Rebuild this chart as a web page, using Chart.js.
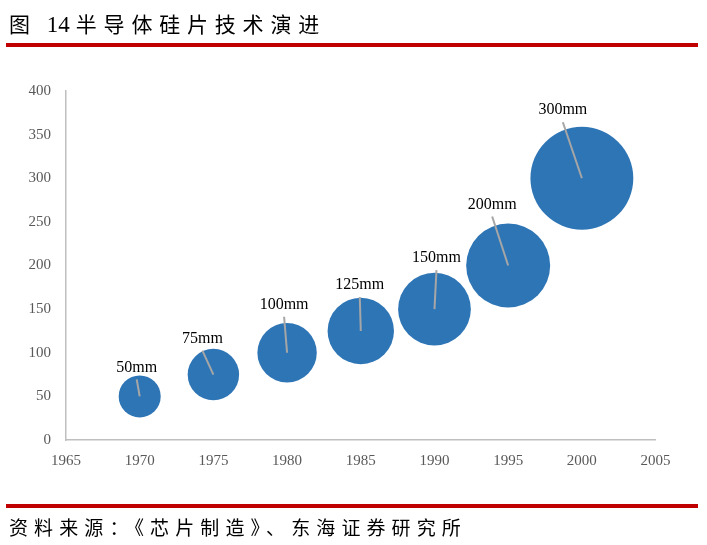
<!DOCTYPE html>
<html>
<head>
<meta charset="utf-8">
<script src="https://cdn.jsdelivr.net/npm/chart.js@4"></script>
<style>
  body { margin: 0; background: #fff; }
  #wrap { position: relative; width: 707px; height: 545px; overflow: hidden; }
  #chartBox { position: absolute; left: 0; top: 0; width: 707px; height: 545px; }
  .title { position: absolute; left: 9px; top: 8px; font: 21px "Liberation Serif", "Noto Sans CJK SC"; letter-spacing: 6.8px; color: #000; white-space: nowrap; }
  .title .num { margin-left: 10px; letter-spacing: 0; font-size: 23px; margin-right: 6px; }
  .rule { position: absolute; left: 6px; width: 692px; height: 4px; background: #c00000; }
  .source { position: absolute; left: 9px; top: 513px; font: 19px "Liberation Serif", "Noto Sans CJK SC"; letter-spacing: 6.1px; color: #000; white-space: nowrap; }
</style>
</head>
<body>
<div id="wrap">
  <div id="chartBox"><canvas id="bubbleChart"></canvas></div>
  <div class="title">图<span class="num">14</span>半导体硅片技术演进</div>
  <div class="rule" style="top:43px"></div>
  <div class="rule" style="top:504px"></div>
  <div class="source">资料来源：《芯片制造》、东海证券研究所</div>
</div>
<script>
// wafer sizes by year
const years = [1970, 1975, 1980, 1985, 1990, 1995, 2000];
const diameters = [50, 75, 100, 125, 150, 200, 300];
const bubbleSizes = [50, 75, 100, 125, 150, 200, 300];
const pointLabels = ['50mm', '75mm', '100mm', '125mm', '150mm', '200mm', '300mm'];
const yTicks = [0, 50, 100, 150, 200, 250, 300, 350, 400];

// label placement relative to bubble centre (px)
const labelShift = [[-3, -29], [-11, -36], [-3, -48], [-1, -46], [2, -51], [-16, -61], [-19, -68]];

// bubble area proportional to size, like excel
const bubbleRadius = (s) => 21 * Math.sqrt(s / 50);

const leaderLabels = {
  id: 'leaderLabels',
  afterDatasetsDraw(chart) {
    const ctx = chart.ctx;
    const pts = chart.getDatasetMeta(0).data;
    ctx.save();
    pts.forEach((p, i) => {
      const lx = p.x + labelShift[i][0];
      const ly = p.y + labelShift[i][1];
      ctx.strokeStyle = '#a6a6a6';
      ctx.lineWidth = 2;
      ctx.beginPath();
      ctx.moveTo(lx, ly + 12);
      ctx.lineTo(p.x, p.y);
      ctx.stroke();
      ctx.fillStyle = '#000';
      ctx.font = '16px "Liberation Serif"';
      ctx.textAlign = 'center';
      ctx.textBaseline = 'middle';
      ctx.fillText(pointLabels[i], lx, ly);
    });
    ctx.restore();
  },
};

const ctx1 = document.getElementById('bubbleChart').getContext('2d');

const myChart = new Chart(ctx1, {
  type: 'bubble',
  data: {
    datasets: [
      {
        label: '硅片尺寸',
        data: years.map((yr, i) => ({ x: yr, y: diameters[i], r: bubbleRadius(bubbleSizes[i]) })),
        backgroundColor: '#2e75b6',
        borderColor: '#2e75b6',
        borderWidth: 0,
      },
    ],
  },
  plugins: [leaderLabels],
  options: {
    responsive: true,
    maintainAspectRatio: false,
    animation: false,
    layout: {
      padding: { left: 0, right: 50, top: 91, bottom: 65 },
    },
    scales: {
      x: {
        type: 'linear',
        min: 1965,
        max: 2005,
        afterFit: (s) => { s.height = 40; },
        afterBuildTicks: (s) => { s.ticks = []; for (let v = 1965; v <= 2005; v += 5) s.ticks.push({ value: v }); },
        grid: { display: false },
        border: { display: true, color: '#bfbfbf', width: 1.5 },
        ticks: {
          color: '#595959',
          font: { family: 'Liberation Serif', size: 15 },
          padding: 4,
          maxRotation: 0,
          callback: (v) => String(v),
        },
      },
      y: {
        min: 0,
        max: 400,
        afterFit: (s) => { s.width = 66; },
        afterBuildTicks: (s) => { s.ticks = yTicks.map((v) => ({ value: v })); },
        grid: { display: false },
        border: { display: true, color: '#bfbfbf', width: 1.5 },
        ticks: {
          color: '#595959',
          font: { family: 'Liberation Serif', size: 15 },
          padding: 7,
        },
      },
    },
    plugins: {
      legend: { display: false },
      tooltip: { enabled: false },
    },
  },
});
</script>
</body>
</html>
